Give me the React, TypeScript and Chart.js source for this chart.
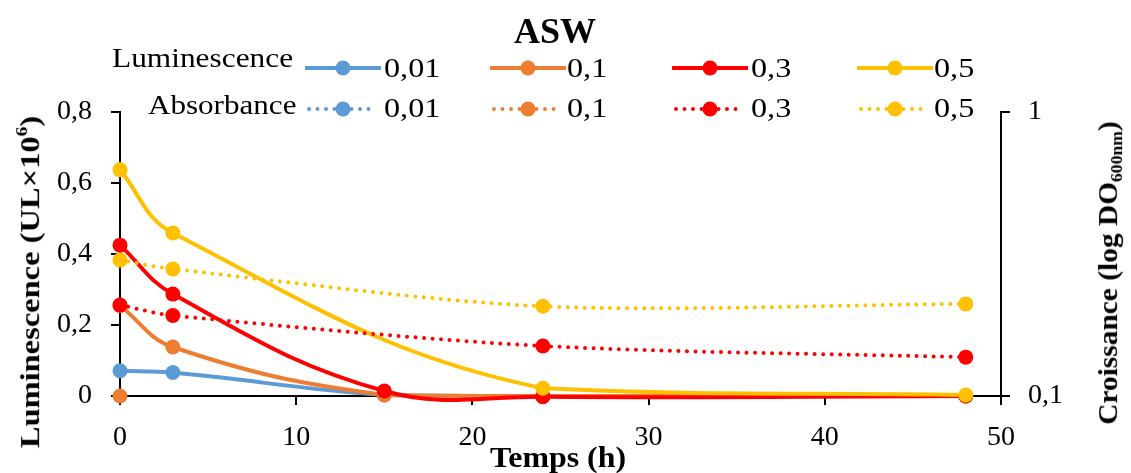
import React, { useEffect, useRef } from 'react';
import { Chart, registerables } from 'chart.js';
Chart.register(...registerables);

// ---- data ----
const times = [0, 3, 15, 24, 48];
const seriesLabels = ['0,01', '0,1', '0,3', '0,5'];
const colors = ['#5B9BD5', '#ED7D31', '#FF0000', '#FFC000'];
// Luminescence (UL x 10^6), left axis
const lum001 = [0.071, 0.066, 0.003, 0, 0];
const lum01 = [0.255, 0.138, 0.003, 0, 0];
const lum03 = [0.425, 0.287, 0.014, -0.002, 0];
const lum05 = [0.637, 0.459, null, 0.022, 0.003];
// Absorbance (log DO600nm), right axis
const abs001 = [null, null, null, null, null];
const abs01 = [0.1, null, null, null, null];
const abs03 = [0.209, 0.192, null, 0.15, 0.137];
const abs05 = [0.301, 0.28, null, 0.207, 0.211];
// ticks
const xTicks = [0, 10, 20, 30, 40, 50];
const yLumTicks = [0, 0.2, 0.4, 0.6, 0.8];
const yAbsTicks = [0.1, 1];

const SERIF = "'Liberation Serif', 'Times New Roman', serif";
const fmt = (v: number) => String(v).replace('.', ',');

const toPts = (arr: (number | null)[]) => times.map((t, i) => ({ x: t, y: arr[i] }));

function Txt(props: { x: number; base: number; size: number; bold?: boolean; sx?: number; anchor?: 'left' | 'center'; children: any }) {
  const { x, base, size, bold, sx = 1, anchor = 'left', children } = props;
  const top = base - 0.8375 * size;
  return (
    <div style={{ position: 'absolute', left: x, top, width: 0, height: 0 }}>
      <span
        style={{
          position: 'absolute',
          left: 0,
          top: 0,
          whiteSpace: 'nowrap',
          fontFamily: SERIF,
          fontSize: size,
          lineHeight: 1,
          fontWeight: bold ? 'bold' : 'normal',
          color: '#000',
          transformOrigin: 'left top',
          transform: anchor === 'center' ? `scaleX(${sx}) translateX(-50%)` : `scaleX(${sx})`,
        }}
      >
        {children}
      </span>
    </div>
  );
}

function VTxt(props: { cx: number; cy: number; size: number; sx?: number; children: any }) {
  const { cx, cy, size, sx = 1, children } = props;
  return (
    <div style={{ position: 'absolute', left: cx, top: cy, width: 0, height: 0 }}>
      <span
        style={{
          position: 'absolute',
          left: 0,
          top: 0,
          whiteSpace: 'nowrap',
          fontFamily: SERIF,
          fontSize: size,
          lineHeight: 1,
          fontWeight: 'bold',
          color: '#000',
          transform: `translate(-50%, -50%) rotate(-90deg) scaleX(${sx})`,
        }}
      >
        {children}
      </span>
    </div>
  );
}

function Sample(props: { x: number; y: number; color: string; dotted?: boolean }) {
  const { x, y, color, dotted } = props;
  return (
    <svg style={{ position: 'absolute', left: x, top: y - 10 }} width={76} height={20}>
      <line
        x1={dotted ? 4 : 1}
        y1={10}
        x2={dotted ? 72 : 75}
        y2={10}
        stroke={color}
        strokeWidth={4}
        strokeLinecap="round"
        strokeDasharray={dotted ? '0 8.5' : undefined}
      />
      <circle cx={38} cy={10} r={7.5} fill={color} />
    </svg>
  );
}

export default function App() {
  const ref = useRef<HTMLCanvasElement>(null);

  useEffect(() => {
    if (!ref.current) return;
    const font = { family: SERIF, size: 28 };
    const grid = {
      display: true,
      drawOnChartArea: false,
      drawTicks: true,
      tickLength: 9,
      tickWidth: 2,
      tickColor: '#000',
      color: '#000',
      lineWidth: 2,
    };
    const border = { display: true, color: '#000', width: 2 };
    const lumSets = [lum001, lum01, lum03, lum05];
    const absSets = [abs001, abs01, abs03, abs05];
    const common = {
      pointRadius: 7.5,
      pointHoverRadius: 7.5,
      pointBorderWidth: 0,
      spanGaps: true,
      tension: 0.4,
      clip: false as any,
    };
    const absDs = [3, 2, 1, 0].map((i) => ({
      label: 'Absorbance ' + seriesLabels[i],
      data: toPts(absSets[i]),
      yAxisID: 'y2',
      borderColor: colors[i],
      backgroundColor: colors[i],
      pointBackgroundColor: colors[i],
      borderWidth: 4,
      borderDash: [0, 8.5],
      borderCapStyle: 'round' as const,
      ...common,
      tension: 0.3,
    }));
    const lumDs = [3, 2, 1, 0].map((i) => ({
      label: 'Luminescence ' + seriesLabels[i],
      data: toPts(lumSets[i]),
      yAxisID: 'y',
      borderColor: colors[i],
      backgroundColor: colors[i],
      pointBackgroundColor: colors[i],
      borderWidth: 4,
      ...common,
    }));

    const chart = new Chart(ref.current, {
      type: 'line',
      data: { datasets: [...absDs, ...lumDs] as any },
      options: {
        animation: false,
        responsive: false,
        devicePixelRatio: 1,
        layout: { padding: { top: 112, left: 0, right: 0, bottom: 0 } },
        plugins: { legend: { display: false }, title: { display: false }, tooltip: { enabled: false } },
        scales: {
          x: {
            type: 'linear',
            position: 'bottom',
            min: 0,
            max: 50,
            afterBuildTicks: (s: any) => {
              s.ticks = xTicks.map((v) => ({ value: v }));
            },
            afterFit: (s: any) => {
              s.height = 77;
            },
            ticks: { font, color: '#000', padding: 16, maxRotation: 0, autoSkip: false, callback: (v: any) => fmt(v) },
            grid,
            border,
          },
          y: {
            type: 'linear',
            position: 'left',
            min: 0,
            max: 0.8,
            afterBuildTicks: (s: any) => {
              s.ticks = yLumTicks.map((v) => ({ value: v }));
            },
            afterFit: (s: any) => {
              s.width = 120;
            },
            ticks: { font, color: '#000', padding: 19, autoSkip: false, callback: (v: any) => fmt(v) },
            grid,
            border,
          },
          y2: {
            type: 'logarithmic',
            position: 'right',
            min: 0.1,
            max: 1,
            afterBuildTicks: (s: any) => {
              s.ticks = yAbsTicks.map((v) => ({ value: v }));
            },
            afterFit: (s: any) => {
              s.width = 130;
            },
            ticks: { font, color: '#000', padding: 18, autoSkip: false, callback: (v: any) => fmt(v) },
            grid,
            border,
          },
        },
      } as any,
    });
    return () => chart.destroy();
  }, []);

  const itemX = [305, 490, 672, 857];
  const textX = [384, 567, 751, 934];

  return (
    <div style={{ position: 'fixed', left: 0, top: 0, width: 1131, height: 473, background: '#fff', overflow: 'hidden' }}>
      <canvas ref={ref} width={1131} height={473} style={{ position: 'absolute', left: 0, top: 0, width: 1131, height: 473 }} />
      <Txt x={555} base={43} size={36} bold anchor="center">ASW</Txt>
      <Txt x={112} base={67} size={28} sx={1.12}>Luminescence</Txt>
      <Txt x={148} base={114} size={28} sx={1.11}>Absorbance</Txt>
      {seriesLabels.map((lab, i) => (
        <React.Fragment key={lab}>
          <Sample x={itemX[i]} y={68} color={colors[i]} />
          <Sample x={itemX[i]} y={109} color={colors[i]} dotted />
          <Txt x={textX[i]} base={77} size={28} sx={1.15}>{lab}</Txt>
          <Txt x={textX[i]} base={117} size={28} sx={1.15}>{lab}</Txt>
        </React.Fragment>
      ))}
      <Txt x={558} base={467} size={29} bold sx={1.1} anchor="center">Temps (h)</Txt>
      <VTxt cx={29} cy={282} size={28} sx={1.16}>
        Luminescence (UL×10<sup style={{ fontSize: '0.6em', verticalAlign: '0.7em' }}>6</sup>)
      </VTxt>
      <VTxt cx={1110} cy={273} size={28} sx={1.05}>
        Croissance (log DO<sub style={{ fontSize: '0.6em', verticalAlign: '-0.3em' }}>600nm</sub>)
      </VTxt>
    </div>
  );
}
